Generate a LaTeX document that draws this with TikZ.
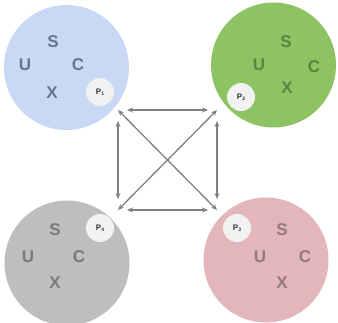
\documentclass[tikz,border=0pt]{standalone}
\usepackage{fontspec}
\setmainfont{Liberation Sans}
\usetikzlibrary{arrows.meta}
\definecolor{cblue}{HTML}{C9D8F4}
\definecolor{cgreen}{HTML}{8DC363}
\definecolor{cgray}{HTML}{BEBEBE}
\definecolor{cpink}{HTML}{E2B6BA}
\definecolor{tblue}{HTML}{67758E}
\definecolor{tgreen}{HTML}{558741}
\definecolor{tgray}{HTML}{7A7A7A}
\definecolor{tpink}{HTML}{937A7E}
\definecolor{pfill}{HTML}{F2F2F2}
\definecolor{arr}{HTML}{808080}
\tikzset{
  bigcircle/.style={circle, minimum size=125pt, inner sep=0pt, draw=none},
  letter/.style={font=\fontsize{17}{17}\selectfont\bfseries, inner sep=0pt},
  pcircle/.style={circle, fill=pfill, minimum size=28pt, inner sep=0pt, font=\fontsize{8}{8}\selectfont\bfseries, text=black!80},
  link/.style={draw=arr, line width=1.3pt, {Stealth[length=6pt,width=5pt]}-{Stealth[length=6pt,width=5pt]}}
}
\newcommand{\plab}[1]{P\raisebox{-1.2pt}{\fontsize{5}{5}\selectfont #1}}
\begin{document}
\begin{tikzpicture}[x=1pt,y=-1pt]
\useasboundingbox (0,0) rectangle (338,322);
% circles
\node[bigcircle, fill=cblue] (A) at (66.5,67.5) {};
\node[bigcircle, fill=cgreen] (B) at (273.5,65) {};
\node[bigcircle, fill=cpink] (D) at (266,260) {};
\node[bigcircle, fill=cgray] (E) at (67,263) {};
% blue letters
\node[letter, text=tblue] (aS) at (53,42) {S};
\node[letter, text=tblue] (aU) at (25,65) {U};
\node[letter, text=tblue] (aC) at (78,65) {C};
\node[letter, text=tblue] (aX) at (52,93) {X};
\node[pcircle] (aP) at (100,92) {\plab{1}};
% green letters
\node[letter, text=tgreen] (bS) at (286,42) {S};
\node[letter, text=tgreen] (bU) at (259,65) {U};
\node[letter, text=tgreen] (bC) at (314,67) {C};
\node[letter, text=tgreen] (bX) at (287,88) {X};
\node[pcircle] (bP) at (241,97) {\plab{2}};
% gray letters
\node[letter, text=tgray] (eS) at (55,230) {S};
\node[letter, text=tgray] (eU) at (28,257) {U};
\node[letter, text=tgray] (eC) at (79,257) {C};
\node[letter, text=tgray] (eX) at (55,283) {X};
\node[pcircle] (eP) at (100,228) {\plab{4}};
% pink letters
\node[letter, text=tpink] (dS) at (282,230) {S};
\node[letter, text=tpink] (dU) at (260,257) {U};
\node[letter, text=tpink] (dC) at (305,257) {C};
\node[letter, text=tpink] (dX) at (282,283) {X};
\node[pcircle] (dP) at (237,228) {\plab{3}};
% corners
\coordinate (c1) at (118,110);
\coordinate (c2) at (217,110);
\coordinate (c3) at (217,210);
\coordinate (c4) at (118,210);
% arrows
\draw[link, shorten <=9pt, shorten >=9pt] (c1) -- (c2);
\draw[link, shorten <=9pt, shorten >=9pt] (c4) -- (c3);
\draw[link, shorten <=11pt, shorten >=11pt] (c1) -- (c4);
\draw[link, shorten <=11pt, shorten >=11pt] (c2) -- (c3);
\draw[link] (c1) -- (c3);
\draw[link] (c2) -- (c4);
\end{tikzpicture}
\end{document}
